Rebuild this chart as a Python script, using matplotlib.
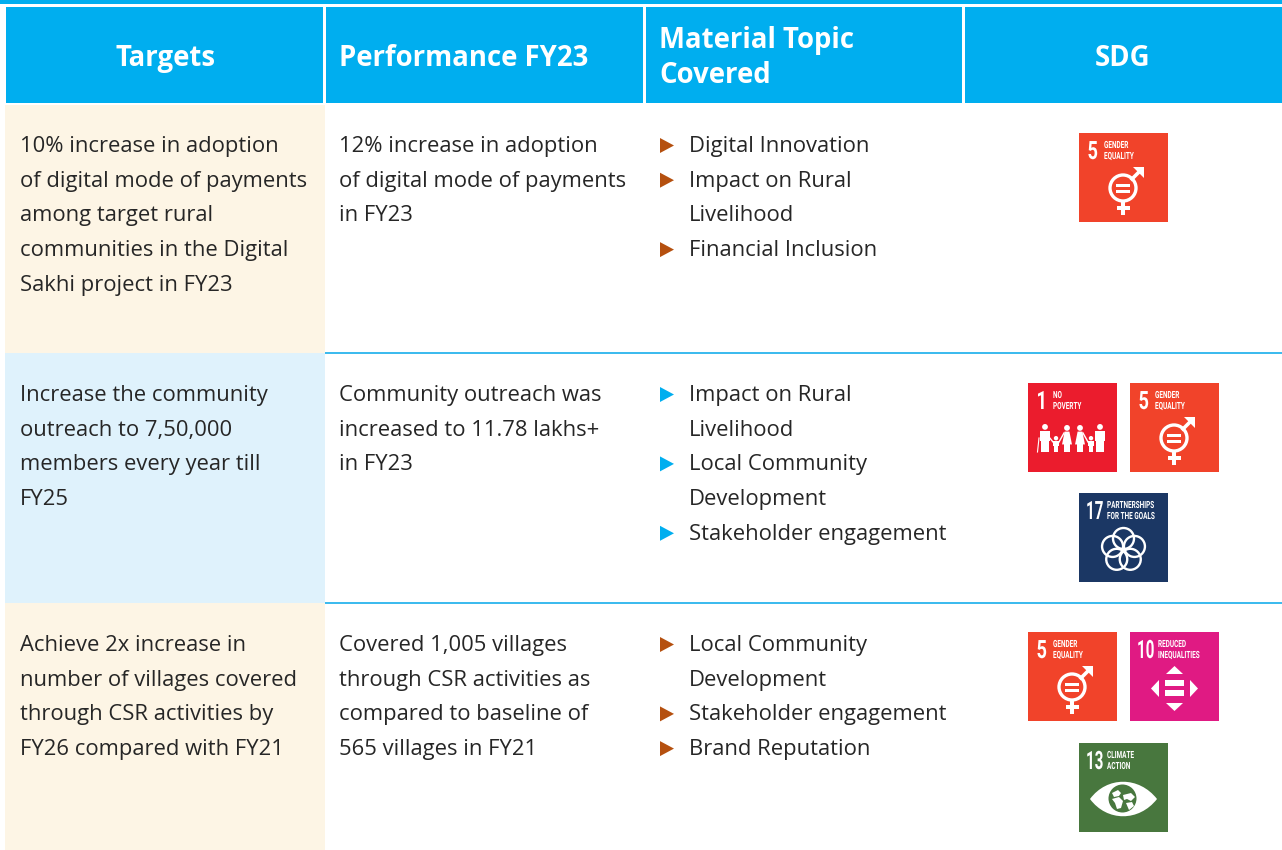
import matplotlib
matplotlib.use("Agg")
import matplotlib.pyplot as plt
from matplotlib.patches import Rectangle, Polygon, Circle, PathPatch
from matplotlib.patheffects import AbstractPathEffect
from matplotlib.path import Path
from matplotlib.text import Text
from matplotlib.transforms import Affine2D, Bbox
import numpy as np

BODY_FONT = ["Open Sans", "DejaVu Sans"]
TILE_FONT = ["Roboto", "DejaVu Sans"]

headers = ["Targets", "Performance FY23", "Material Topic\nCovered", "SDG"]

targets = [
    ["10% increase in adoption", "of digital mode of payments", "among target rural",
     "communities in the Digital", "Sakhi project in FY23"],
    ["Increase the community", "outreach to 7,50,000", "members every year till", "FY25"],
    ["Achieve 2x increase in", "number of villages covered", "through CSR activities by",
     "FY26 compared with FY21"],
]
performance = [
    ["12% increase in adoption", "of digital mode of payments", "in FY23"],
    ["Community outreach was", "increased to 11.78 lakhs+", "in FY23"],
    ["Covered 1,005 villages", "through CSR activities as", "compared to baseline of",
     "565 villages in FY21"],
]
topics = [
    [["Digital Innovation"], ["Impact on Rural", "Livelihood"], ["Financial Inclusion"]],
    [["Impact on Rural", "Livelihood"], ["Local Community", "Development"], ["Stakeholder engagement"]],
    [["Local Community", "Development"], ["Stakeholder engagement"], ["Brand Reputation"]],
]
sdg_rows = [[5], [1, 5, 17], [5, 10, 13]]

sdg_names = {
    1: ["NO", "POVERTY"],
    5: ["GENDER", "EQUALITY"],
    10: ["REDUCED", "INEQUALITIES"],
    13: ["CLIMATE", "ACTION"],
    17: ["PARTNERSHIPS", "FOR THE GOALS"],
}
sdg_colors = {1: "#EB1C2D", 5: "#F1432A", 10: "#E01A83", 13: "#48773E", 17: "#1B3764"}

BLUE = "#00AEEF"
CREAM = "#FDF5E5"
PALE = "#DFF2FC"
BROWN = "#B5500F"
TEXT = "#262626"


class Squeeze(AbstractPathEffect):
    # narrows the glyphs, the tiles use a condensed face we don't have
    def __init__(self, sx):
        super().__init__()
        self.sx = sx

    def draw_path(self, renderer, gc, tpath, affine, rgbFace=None):
        renderer.draw_path(gc, tpath, Affine2D().scale(self.sx, 1) + affine, rgbFace)


class NarrowText(Text):
    # real text drawn narrower, its extent has to shrink along with it
    def __init__(self, x, y, s, sx, **kw):
        super().__init__(x, y, s, path_effects=[Squeeze(sx)], **kw)
        self.sx = sx

    def get_window_extent(self, renderer=None, dpi=None):
        bb = super().get_window_extent(renderer, dpi)
        return Bbox.from_extents(bb.x0, bb.y0, bb.x0 + bb.width * self.sx, bb.y1)


fig = plt.figure(figsize=(12.82, 8.5), dpi=100)
ax = fig.add_axes([0, 0, 1, 1])
ax.set_xlim(0, 1282)
ax.set_ylim(850, 0)
ax.axis("off")


def box(x0, y0, x1, y1, color, z=1):
    ax.add_patch(Rectangle((x0, y0), x1 - x0, y1 - y0, fc=color, ec="none", zorder=z))


def draw_gender(x, y):
    ax.add_patch(Circle((x + 44, y + 55), 13, fc="none", ec="white", lw=2.4, zorder=4))
    box(x + 37, y + 50.5, x + 51, y + 53.5, "white", 4)
    box(x + 37, y + 56.5, x + 51, y + 59.5, "white", 4)
    box(x + 42.3, y + 68, x + 45.7, y + 82, "white", 4)
    box(x + 37.5, y + 73, x + 50.5, y + 76.5, "white", 4)
    ax.plot([x + 53, x + 62], [y + 46, y + 37], color="white", lw=2.6, zorder=4)
    ax.add_patch(Polygon([(x + 54, y + 34), (x + 65, y + 34), (x + 65, y + 45)],
                         fc="white", ec="none", zorder=4))


def draw_person(cx, top, h, w, skirt=False):
    r = 2.9 if h > 20 else 2.2
    ax.add_patch(Circle((cx, top + r), r, fc="white", ec="none", zorder=4))
    body_top = top + 2 * r + 0.8
    bottom = top + h
    if skirt:
        ax.add_patch(Polygon([(cx - w * 0.3, body_top), (cx + w * 0.3, body_top),
                              (cx + w * 0.62, top + h * 0.72), (cx - w * 0.62, top + h * 0.72)],
                             fc="white", ec="none", zorder=4))
    else:
        box(cx - w / 2, body_top, cx + w / 2, top + h * 0.62, "white", 4)
    box(cx - w * 0.36, top + h * 0.55, cx - w * 0.04, bottom, "white", 4)
    box(cx + w * 0.04, top + h * 0.55, cx + w * 0.36, bottom, "white", 4)


def draw_poverty(x, y):
    draw_person(x + 17, y + 41, 28, 10)
    draw_person(x + 28, y + 53, 16, 6)
    draw_person(x + 39, y + 42, 27, 8, True)
    draw_person(x + 52, y + 42, 27, 8, True)
    draw_person(x + 63, y + 53, 16, 6)
    draw_person(x + 72, y + 41, 28, 10)
    ax.plot([x + 11, x + 9.5], [y + 55, y + 69], color="white", lw=0.8, zorder=4)
    ax.plot([x + 31, x + 36], [y + 59, y + 50], color="white", lw=1, zorder=4)
    ax.plot([x + 25, x + 21], [y + 59, y + 54], color="white", lw=1, zorder=4)
    ax.plot([x + 60, x + 55], [y + 59, y + 50], color="white", lw=1, zorder=4)


def draw_partnership(x, y):
    for a in [90, 162, 234, 306, 18]:
        cx = x + 44.5 + 11.5 * np.cos(np.radians(a))
        cy = y + 57 - 11.5 * np.sin(np.radians(a))
        ax.add_patch(Circle((cx, cy), 10.5, fc="none", ec="white", lw=1.7, zorder=4))


def draw_reduced(x, y):
    box(x + 35, y + 48, x + 54, y + 54, "white", 4)
    box(x + 35, y + 58, x + 54, y + 64, "white", 4)
    for pts in [[(36, 42), (53, 42), (44.5, 34)], [(36, 71), (53, 71), (44.5, 79)],
                [(29, 48), (29, 65), (21, 56.5)], [(60, 48), (60, 65), (68, 56.5)]]:
        ax.add_patch(Polygon([(x + a, y + b) for a, b in pts], fc="white", ec="none", zorder=4))


def draw_climate(x, y):
    verts = [(x + 11, y + 56), (x + 28, y + 33), (x + 60, y + 33), (x + 78, y + 56),
             (x + 60, y + 79), (x + 28, y + 79), (x + 11, y + 56)]
    codes = [Path.MOVETO] + [Path.CURVE4] * 6
    ax.add_patch(PathPatch(Path(verts, codes), fc="white", ec="none", zorder=4))
    ax.add_patch(Circle((x + 43.5, y + 55.5), 14, fc="#48773E", ec="none", zorder=5))
    land = [
        [(33, 50), (39, 47), (42, 50), (40, 53), (35, 54)],
        [(33, 56), (40, 54), (44, 58), (42, 65), (38, 66), (36, 60)],
        [(44, 52), (52, 50), (56, 54), (52, 58), (48, 56), (45, 57)],
        [(47, 60), (53, 59), (55, 63), (50, 67)],
    ]
    for pts in land:
        ax.add_patch(Polygon([(x + a, y + b) for a, b in pts], fc="white", ec="none", zorder=6))


glyphs = {1: draw_poverty, 5: draw_gender, 10: draw_reduced, 13: draw_climate, 17: draw_partnership}


def tile_text(x, y, s, sx, size):
    ax.add_artist(NarrowText(x, y, s, sx, color="white", fontsize=size, fontweight="bold",
                             family=TILE_FONT, va="baseline", ha="left", zorder=4))


def draw_tile(goal, x, y, size=89):
    box(x, y, x + size, y + size, sdg_colors[goal], 3)
    num_x = x + (7 if goal > 9 else 8.5)
    lab_x = x + (28 if goal > 9 else 25)
    tile_text(num_x, y + 26, str(goal), 0.6 if goal > 9 else 0.72, 18.2)
    tile_text(lab_x, y + 15, sdg_names[goal][0], 0.65, 7.1)
    tile_text(lab_x, y + 26, sdg_names[goal][1], 0.65, 7.1)
    glyphs[goal](x, y)


# header band
box(0, 0, 1282, 4, BLUE)
box(6, 7, 1282, 103, BLUE)
for sep in [324, 644, 963]:
    box(sep - 1, 5, sep + 2, 103, "white", 2)

header_font = dict(color="white", fontweight="bold", fontsize=19.85, family=BODY_FONT, zorder=3)
ax.text(165, 66, headers[0], ha="center", va="baseline", **header_font)
ax.text(339, 66, headers[1], ha="left", va="baseline", **header_font)
l1, l2 = headers[2].split("\n")
ax.text(659, 48, l1, ha="left", va="baseline", **header_font)
ax.text(659, 83, l2, ha="left", va="baseline", **header_font)
ax.text(1123, 66, headers[3], ha="center", va="baseline", **header_font)

# row backgrounds and rules
box(5, 105, 325, 353, CREAM)
box(5, 353, 325, 603, PALE)
box(5, 603, 325, 850, CREAM)
box(325, 352, 1282, 354, "#3DBBEE")
box(325, 602, 1282, 604, "#3DBBEE")

row_base = [152, 401, 651]
LINE = 34.7
body = dict(color=TEXT, fontsize=15.8, family=BODY_FONT, va="baseline", ha="left", zorder=3)

for r, base in enumerate(row_base):
    for i, line in enumerate(targets[r]):
        ax.text(20, base + i * LINE, line, **body)
    for i, line in enumerate(performance[r]):
        ax.text(339, base + i * LINE, line, **body)
    n = 0
    color = BLUE if r == 1 else BROWN
    for item in topics[r]:
        ym = base + n * LINE - 6.5
        ax.add_patch(Polygon([(660, ym - 7.5), (660, ym + 7.5), (674, ym)], fc=color, ec="none", zorder=3))
        for line in item:
            ax.text(689, base + n * LINE, line, **body)
            n += 1

# SDG tiles
draw_tile(sdg_rows[0][0], 1079, 133)
draw_tile(sdg_rows[1][0], 1028, 383)
draw_tile(sdg_rows[1][1], 1130, 383)
draw_tile(sdg_rows[1][2], 1079, 493)
draw_tile(sdg_rows[2][0], 1028, 632)
draw_tile(sdg_rows[2][1], 1130, 632)
draw_tile(sdg_rows[2][2], 1079, 743)

fig.savefig("out.png", dpi=100, facecolor="white")
